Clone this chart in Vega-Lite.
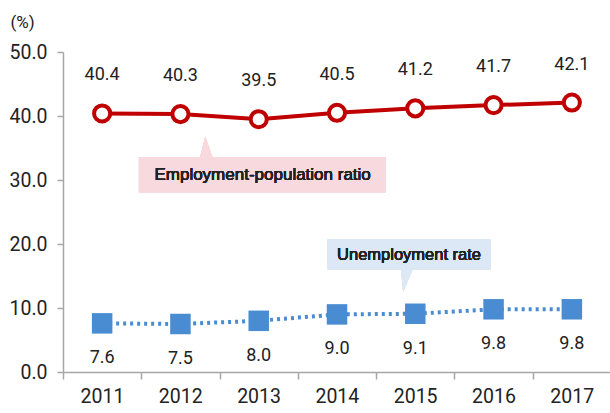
{
  "$schema": "https://vega.github.io/schema/vega-lite/v6.json",
  "autosize": {"type": "none"},
  "width": 548,
  "height": 320,
  "padding": {"left": 63, "top": 52, "right": 0, "bottom": 41},
  "background": "white",
  "config": {
    "view": {"stroke": null},
    "axis": {"grid": false, "domainColor": "#A6A6A6", "tickColor": "#A6A6A6", "domainWidth": 1.5, "tickWidth": 1.5, "labelFont": "Roboto", "labelFontWeight": "normal", "labelColor": "#222222", "labelFontSize": 19.5}
  },
  "data": {
    "values": [
      {"year": 2011, "emp": 40.4, "unemp": 7.6},
      {"year": 2012, "emp": 40.3, "unemp": 7.5},
      {"year": 2013, "emp": 39.5, "unemp": 8.0},
      {"year": 2014, "emp": 40.5, "unemp": 9.0},
      {"year": 2015, "emp": 41.2, "unemp": 9.1},
      {"year": 2016, "emp": 41.7, "unemp": 9.8},
      {"year": 2017, "emp": 42.1, "unemp": 9.8}
    ]
  },
  "encoding": {
    "x": {
      "field": "year", "type": "quantitative",
      "scale": {"domain": [2010.5, 2017.5], "nice": false, "zero": false},
      "axis": {
        "title": null,
        "values": [2010.5, 2011.5, 2012.5, 2013.5, 2014.5, 2015.5, 2016.5, 2017.5],
        "labelExpr": "datum.value < 2017 ? '' + (datum.value + 0.5) : ''",
        "labelOffset": 39, "labelFlush": false, "labelOverlap": false, "labelBound": false,
        "tickSize": 7, "labelPadding": 8
      }
    }
  },
  "layer": [
    {
      "mark": {"type": "rect", "color": "#F8D8DD", "opacity": 0.85},
      "encoding": {
        "x": {"datum": 2011.47}, "x2": {"datum": 2014.62},
        "y": {"datum": 33.6, "type": "quantitative"}, "y2": {"datum": 28.1}
      }
    },
    {
      "mark": {"type": "point", "shape": "M-0.45,1 L0.05,-1 L0.75,1 Z", "filled": true, "color": "#F8D8DD", "opacity": 0.9, "size": 500},
      "encoding": {"x": {"datum": 2012.31}, "y": {"datum": 35.0, "type": "quantitative"}}
    },
    {
      "mark": {"type": "text", "font": "Liberation Sans", "fontWeight": "normal", "fontSize": 17, "color": "#222222"},
      "encoding": {"x": {"datum": 2013.05}, "y": {"datum": 30.85, "type": "quantitative"}, "text": {"value": "Employment-population ratio"}}
    },
    {
      "mark": {"type": "rect", "color": "#DCE8F4", "opacity": 0.85},
      "encoding": {
        "x": {"datum": 2013.88}, "x2": {"datum": 2015.96},
        "y": {"datum": 20.7, "type": "quantitative"}, "y2": {"datum": 16.0}
      }
    },
    {
      "mark": {"type": "point", "shape": "M-0.3,-1 L0.75,-1 L-0.1,1 Z", "filled": true, "color": "#DCE8F4", "opacity": 0.9, "size": 500},
      "encoding": {"x": {"datum": 2014.86}, "y": {"datum": 14.3, "type": "quantitative"}}
    },
    {
      "mark": {"type": "text", "font": "Liberation Sans", "fontWeight": "normal", "fontSize": 16.5, "color": "#222222"},
      "encoding": {"x": {"datum": 2014.92}, "y": {"datum": 18.35, "type": "quantitative"}, "text": {"value": "Unemployment rate"}}
    },
    {
      "mark": {"type": "line", "color": "#4A8CD2", "strokeWidth": 4, "strokeDash": [3, 4]},
      "encoding": {
        "y": {
          "field": "unemp", "type": "quantitative",
          "scale": {"domain": [0, 50], "nice": false},
          "axis": {
            "values": [0, 10, 20, 30, 40, 50], "format": ".1f",
            "tickSize": 6, "labelPadding": 10,
            "title": "(%)", "titleAngle": 0, "titleFont": "Roboto", "titleFontWeight": "normal",
            "titleFontSize": 17, "titleColor": "#222222", "titleX": -41, "titleY": -30, "titleAlign": "center", "titleBaseline": "middle"
          }
        }
      }
    },
    {
      "mark": {"type": "point", "shape": "square", "filled": true, "color": "#4A8CD2", "opacity": 1, "size": 420},
      "encoding": {"y": {"field": "unemp", "type": "quantitative"}}
    },
    {
      "mark": {"type": "text", "font": "Roboto", "fontWeight": "normal", "fontSize": 18, "color": "#222222", "dy": 35},
      "encoding": {"y": {"field": "unemp", "type": "quantitative"}, "text": {"field": "unemp", "type": "quantitative", "format": ".1f"}}
    },
    {
      "mark": {"type": "line", "color": "#C00000", "strokeWidth": 4},
      "encoding": {"y": {"field": "emp", "type": "quantitative"}}
    },
    {
      "mark": {"type": "point", "shape": "circle", "filled": true, "fill": "white", "stroke": "#C00000", "strokeWidth": 4, "opacity": 1, "size": 260},
      "encoding": {"y": {"field": "emp", "type": "quantitative"}}
    },
    {
      "mark": {"type": "text", "font": "Roboto", "fontWeight": "normal", "fontSize": 18, "color": "#222222", "dy": -38},
      "encoding": {"y": {"field": "emp", "type": "quantitative"}, "text": {"field": "emp", "type": "quantitative", "format": ".1f"}}
    }
  ]
}
